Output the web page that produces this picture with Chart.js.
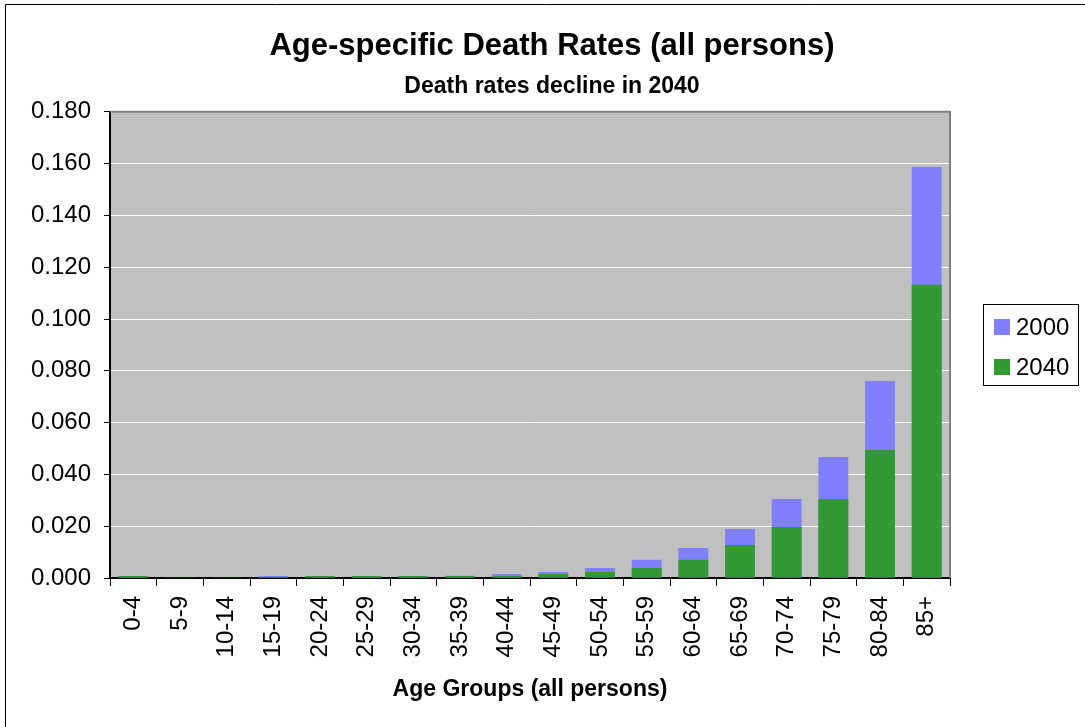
<!DOCTYPE html>
<html>
<head>
<meta charset="utf-8">
<script src="https://cdn.jsdelivr.net/npm/chart.js@4"></script>
<style>
  html, body { margin: 0; padding: 0; background: #fff; }
  #wrap { position: relative; width: 1085px; height: 727px; }
</style>
</head>
<body>
<div id="wrap"><canvas id="c" width="1085" height="727"></canvas></div>
<script>
const categories = ["0-4","5-9","10-14","15-19","20-24","25-29","30-34","35-39","40-44","45-49","50-54","55-59","60-64","65-69","70-74","75-79","80-84","85+"];
const rates2000 = [0.0008,0.0002,0.0002,0.0008,0.0008,0.0008,0.0008,0.0009,0.0015,0.0023,0.0039,0.0070,0.0116,0.0189,0.0305,0.0467,0.0761,0.1587];
const rates2040 = [0.0008,0.0001,0.0001,0.0004,0.0008,0.0008,0.0008,0.0008,0.0008,0.0015,0.0023,0.0039,0.0070,0.0127,0.0197,0.0305,0.0494,0.1132];
const seriesLabels = ["2000","2040"];
const yTicks = [0,0.02,0.04,0.06,0.08,0.10,0.12,0.14,0.16,0.18];

const FONT = "'Liberation Sans', Arial, sans-serif";

const decorPlugin = {
  id: 'decor',
  beforeDraw(chart) {
    const {ctx, chartArea: a} = chart;
    ctx.save();
    ctx.fillStyle = '#fff';
    ctx.fillRect(0, 0, chart.width, chart.height);
    ctx.fillStyle = '#C0C0C0';
    ctx.fillRect(a.left, a.top, a.right - a.left, a.bottom - a.top);
    ctx.restore();
  },
  afterDraw(chart) {
    const {ctx, chartArea: a} = chart;
    ctx.save();
    // plot frame (top & right)
    ctx.strokeStyle = '#808080';
    ctx.lineWidth = 2;
    ctx.beginPath();
    ctx.moveTo(a.left, a.top);
    ctx.lineTo(a.right, a.top);
    ctx.lineTo(a.right, a.bottom);
    ctx.stroke();
    // outer border (top & left visible)
    ctx.strokeStyle = '#000';
    ctx.lineWidth = 1;
    ctx.beginPath();
    ctx.moveTo(5.5, chart.height);
    ctx.lineTo(5.5, 4.5);
    ctx.lineTo(chart.width, 4.5);
    ctx.stroke();
    // legend
    const lx = 983, ly = 304, lw = 95, lh = 81;
    ctx.fillStyle = '#fff';
    ctx.fillRect(lx, ly, lw, lh);
    ctx.strokeStyle = '#000';
    ctx.lineWidth = 1;
    ctx.strokeRect(lx + 0.5, ly + 0.5, lw, lh);
    ctx.font = '24px ' + FONT;
    ctx.textBaseline = 'middle';
    ctx.textAlign = 'left';
    chart.data.datasets.forEach((ds, i) => {
      const cy = 327 + i * 40;
      ctx.fillStyle = ds.backgroundColor;
      ctx.fillRect(994, cy - 8, 16, 16);
      ctx.fillStyle = '#000';
      ctx.fillText(ds.label, 1016, cy + 1);
    });
    ctx.restore();
  }
};

new Chart(document.getElementById('c'), {
  type: 'bar',
  data: {
    labels: categories,
    datasets: [
      { label: seriesLabels[0], data: rates2000, backgroundColor: '#8080FF', order: 2, grouped: false,
        barPercentage: 1, categoryPercentage: 0.64 },
      { label: seriesLabels[1], data: rates2040, backgroundColor: '#339933', order: 1, grouped: false,
        barPercentage: 1, categoryPercentage: 0.64 }
    ]
  },
  plugins: [decorPlugin],
  options: {
    responsive: false,
    animation: false,
    layout: { padding: { left: 19, right: 0, top: 0, bottom: 0 } },
    plugins: {
      legend: { display: false },
      tooltip: { enabled: false },
      title: {
        display: true,
        text: 'Age-specific Death Rates (all persons)',
        color: '#000',
        font: { family: FONT, size: 31, weight: 'bold' },
        padding: { top: 28, bottom: 8 }
      },
      subtitle: {
        display: true,
        text: 'Death rates decline in 2040',
        color: '#000',
        font: { family: FONT, size: 23, weight: 'bold' },
        padding: { top: 0, bottom: 11 }
      }
    },
    scales: {
      x: {
        offset: true,
        grid: { display: true, drawOnChartArea: false, offset: true, tickColor: '#000', tickLength: 8 },
        border: { color: '#000', width: 2 },
        ticks: { color: '#000', font: { family: FONT, size: 24 }, maxRotation: 90, minRotation: 90, padding: 10, autoSkip: false },
        title: {
          display: true,
          text: 'Age Groups (all persons)',
          color: '#000',
          font: { family: FONT, size: 23, weight: 'bold' },
          padding: { top: 0, bottom: 24 }
        },
        afterFit(s) { s.height = 149; }
      },
      y: {
        min: 0, max: 0.18,
        afterBuildTicks(s) { s.ticks = yTicks.map(v => ({ value: v })); },
        grid: { color: '#FFFFFF', lineWidth: 1, tickColor: '#000', tickLength: 6 },
        border: { color: '#000', width: 2 },
        ticks: { color: '#000', font: { family: FONT, size: 24 }, padding: 13,
                 callback: (v) => Number(v).toFixed(3) },
        afterFit(s) { s.width = 91; }
      },
      legendSpace: {
        type: 'linear',
        position: 'right',
        display: true,
        grid: { display: false },
        border: { display: false },
        ticks: { display: false },
        afterFit(s) { s.width = 135; }
      }
    }
  }
});
</script>
</body>
</html>
